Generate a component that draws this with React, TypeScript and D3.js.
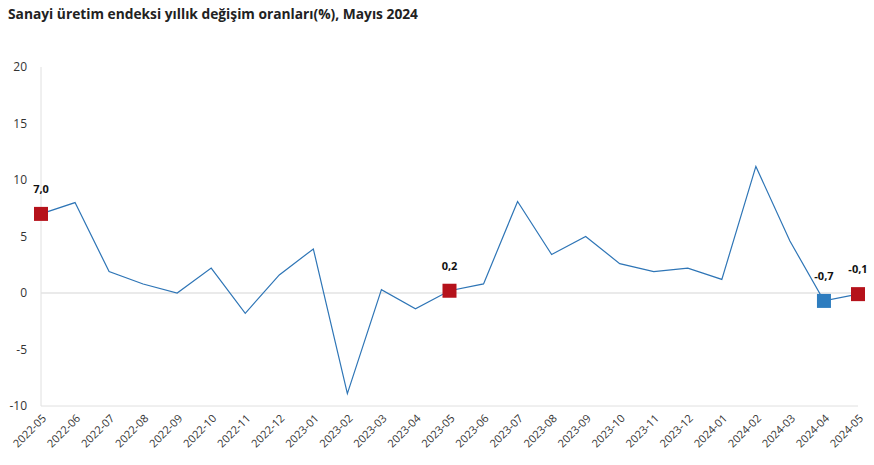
import React from "react";
import * as d3 from "d3";

const months = [
  "2022-05","2022-06","2022-07","2022-08","2022-09","2022-10","2022-11","2022-12",
  "2023-01","2023-02","2023-03","2023-04","2023-05","2023-06","2023-07","2023-08",
  "2023-09","2023-10","2023-11","2023-12","2024-01","2024-02","2024-03","2024-04","2024-05",
];
const values = [
  7.0, 8.0, 1.9, 0.8, 0.0, 2.2, -1.8, 1.6,
  3.9, -8.9, 0.3, -1.4, 0.2, 0.8, 8.1, 3.4,
  5.0, 2.6, 1.9, 2.2, 1.2, 11.2, 4.6, -0.7, -0.1,
];
const highlighted = ["2022-05", "2023-05", "2024-04", "2024-05"];
const highlightColors = ["#b5121b", "#b5121b", "#2e7dbf", "#b5121b"];
const yTicks = [-10, -5, 0, 5, 10, 15, 20];
const title = "Sanayi üretim endeksi yıllık değişim oranları(%), Mayıs 2024";

const W = 874, H = 465;
const left = 41, right = 858, top = 67, bottom = 406;

export default function App() {
  const x = d3.scalePoint<string>().domain(months).range([left, right]);
  const y = d3.scaleLinear().domain([-10, 20]).range([bottom, top]);
  const line = d3.line<number>().x((_, i) => x(months[i])!).y((d) => y(d));
  const fmt = (v: number) => v.toFixed(1).replace(".", ",");
  const font = "'Open Sans', 'Noto Sans', sans-serif";
  return (
    <svg width={W} height={H} style={{ position: "absolute", left: 0, top: 0, background: "#fff" }} fontFamily={font}>
      <text x={8} y={19} fontSize={14} fontWeight={700} fill="#222" textLength={410} lengthAdjust="spacingAndGlyphs">{title}</text>
      <line x1={left} x2={left} y1={top} y2={bottom} stroke="#e0e0e0" />
      <line x1={left} x2={right} y1={bottom} y2={bottom} stroke="#e0e0e0" />
      <line x1={left} x2={right} y1={y(0)} y2={y(0)} stroke="#e3e3e3" strokeWidth={1.5} />
      {yTicks.map((t) => (
        <text key={t} x={27} y={y(t)} dy="0.35em" textAnchor="end" fontSize={12} fill="#333">{t}</text>
      ))}
      {months.map((m) => (
        <text key={m} transform={`translate(${x(m)! + 6},${bottom + 13}) rotate(-45)`} textAnchor="end" fontSize={11} fill="#333">{m}</text>
      ))}
      <path d={line(values)!} fill="none" stroke="#2e75b6" strokeWidth={1.2} />
      {highlighted.map((m, k) => {
        const v = values[months.indexOf(m)];
        const cx = x(m)!, cy = y(v);
        return (
          <g key={m}>
            <rect x={cx - 7} y={cy - 7} width={14} height={14} fill={highlightColors[k]} />
            <text x={cx} y={cy - 25} dy="0.35em" textAnchor="middle" fontSize={11} fontWeight={700} fill="#111">{fmt(v)}</text>
          </g>
        );
      })}
    </svg>
  );
}
